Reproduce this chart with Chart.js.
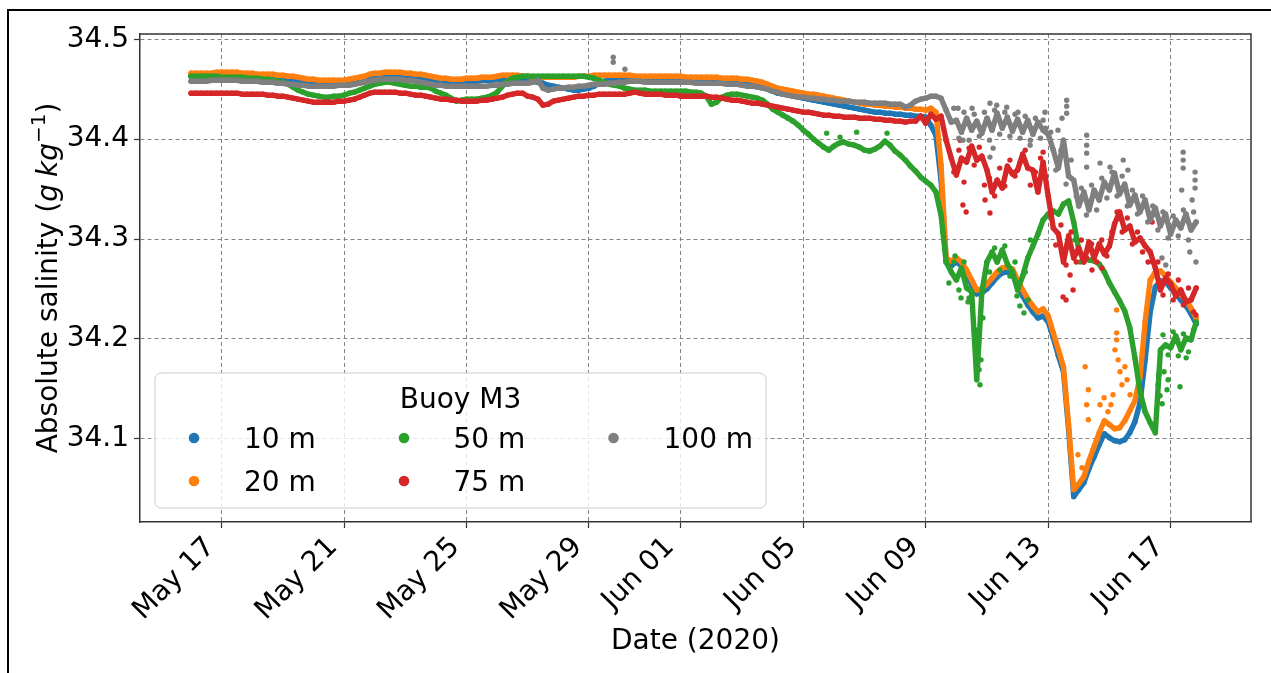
<!DOCTYPE html>
<html>
<head>
<meta charset="utf-8">
<title>Absolute salinity, Buoy M3</title>
<script src="https://cdn.jsdelivr.net/npm/chart.js@4.4.1/dist/chart.umd.min.js"></script>
<style>
  html, body { margin: 0; padding: 0; background: #ffffff; }
  #wrap { position: relative; width: 1271px; height: 673px; }
  canvas { display: block; }
</style>
</head>
<body>
<div id="wrap"><canvas id="chart" width="1271" height="673"></canvas></div>
<script>
// Mooring record sampled every 4 hours, starting 16 May 2020 00:00 UTC
const recordStart = '2020-05-16T00:00:00Z';
const recordStepHours = 4;

const depthLabels = ['10 m', '20 m', '50 m', '75 m', '100 m'];
const depthColors = ['#1f77b4', '#ff7f0e', '#2ca02c', '#d62728', '#7f7f7f'];
const legendTitle = 'Buoy M3';

const dateTicks = ['2020-05-17', '2020-05-21', '2020-05-25', '2020-05-29', '2020-06-01',
                   '2020-06-05', '2020-06-09', '2020-06-13', '2020-06-17'];
const dateTickLabels = ['May 17', 'May 21', 'May 25', 'May 29', 'Jun 01',
                        'Jun 05', 'Jun 09', 'Jun 13', 'Jun 17'];
const salinityTicks = [34.1, 34.2, 34.3, 34.4, 34.5];

const xLimits = ['2020-05-14T08:00:00Z', '2020-06-19T15:00:00Z'];
const yLimits = [34.0166, 34.5053];

// Absolute salinity (g/kg), one row per day (00, 04, 08, 12, 16, 20 h)
const sal10 = [
  34.463,34.463,34.463,34.463,34.463,34.464, // May 16
  34.464,34.464,34.464,34.464,34.463,34.463,
  34.463,34.462,34.462,34.462,34.461,34.461,
  34.461,34.460,34.459,34.458,34.457,34.456,
  34.456,34.456,34.456,34.456,34.456,34.456, // May 20
  34.456,34.457,34.458,34.459,34.460,34.462,
  34.463,34.463,34.463,34.463,34.463,34.463,
  34.463,34.463,34.462,34.462,34.461,34.460,
  34.459,34.458,34.458,34.457,34.457,34.457,
  34.458,34.458,34.458,34.459,34.459,34.459, // May 25
  34.460,34.460,34.460,34.460,34.460,34.459,
  34.459,34.458,34.457,34.456,34.454,34.453,
  34.452,34.451,34.450,34.449,34.449,34.450,
  34.451,34.453,34.456,34.458,34.459,34.460,
  34.461,34.461,34.461,34.460,34.460,34.460, // May 30
  34.460,34.460,34.460,34.460,34.460,34.460,
  34.460,34.459,34.459,34.459,34.459,34.459, // Jun 01
  34.459,34.459,34.458,34.458,34.457,34.457,
  34.456,34.455,34.454,34.453,34.452,34.450,
  34.448,34.446,34.445,34.444,34.443,34.442,
  34.441,34.440,34.439,34.438,34.437,34.436, // Jun 05
  34.435,34.434,34.433,34.432,34.431,34.430,
  34.429,34.428,34.427,34.427,34.426,34.426,
  34.425,34.425,34.424,34.424,34.423,34.423,
  34.422,34.414,34.404,34.359,34.277,34.273, // Jun 09
  34.277,34.273,34.265,34.254,34.245,34.246,
  34.250,34.256,34.262,34.266,34.267,34.265,
  34.253,34.243,34.234,34.227,34.221,34.223,
  34.217,34.201,34.183,34.167,34.109,34.042, // Jun 13
  34.049,34.056,34.070,34.082,34.094,34.105,
  34.101,34.098,34.097,34.099,34.106,34.117,
  34.136,34.179,34.227,34.252,34.258,34.257,
  34.251,34.245,34.239,34.233,34.225,34.215  // Jun 17
];

const sal20 = [
  34.466,34.466,34.466,34.466,34.466,34.467, // May 16
  34.467,34.467,34.467,34.467,34.466,34.466,
  34.466,34.465,34.465,34.465,34.465,34.464,
  34.464,34.463,34.463,34.462,34.461,34.460,
  34.460,34.459,34.459,34.459,34.459,34.459, // May 20
  34.459,34.460,34.461,34.462,34.463,34.465,
  34.466,34.466,34.467,34.467,34.467,34.467,
  34.466,34.466,34.465,34.465,34.464,34.463,
  34.462,34.461,34.461,34.460,34.460,34.460,
  34.461,34.461,34.461,34.462,34.462,34.462, // May 25
  34.463,34.464,34.464,34.464,34.464,34.463,
  34.463,34.462,34.462,34.462,34.462,34.462,
  34.462,34.462,34.462,34.462,34.463,34.463,
  34.463,34.464,34.464,34.464,34.464,34.464,
  34.464,34.464,34.464,34.463,34.463,34.463, // May 30
  34.463,34.463,34.463,34.463,34.463,34.463,
  34.463,34.462,34.462,34.462,34.462,34.462, // Jun 01
  34.462,34.462,34.461,34.461,34.461,34.461,
  34.460,34.460,34.459,34.458,34.457,34.455,
  34.453,34.451,34.450,34.449,34.448,34.447,
  34.446,34.445,34.445,34.444,34.443,34.442, // Jun 05
  34.441,34.440,34.439,34.438,34.437,34.436,
  34.435,34.435,34.434,34.434,34.433,34.433,
  34.432,34.432,34.431,34.431,34.430,34.430,
  34.429,34.431,34.427,34.374,34.281,34.278, // Jun 09
  34.281,34.277,34.269,34.259,34.249,34.250,
  34.255,34.261,34.267,34.271,34.272,34.270,
  34.259,34.249,34.240,34.233,34.227,34.230,
  34.223,34.206,34.189,34.172,34.114,34.049, // Jun 13
  34.055,34.062,34.078,34.092,34.106,34.118,
  34.114,34.110,34.111,34.118,34.128,34.138,
  34.162,34.217,34.259,34.267,34.268,34.263,
  34.257,34.251,34.245,34.239,34.231,34.221  // Jun 17
];

const sal50 = [
  34.463,34.463,34.463,34.463,34.463,34.463, // May 16
  34.462,34.462,34.462,34.462,34.462,34.461,
  34.461,34.461,34.460,34.460,34.459,34.458,
  34.457,34.455,34.452,34.449,34.447,34.445,
  34.444,34.443,34.442,34.442,34.443,34.443, // May 20
  34.444,34.446,34.447,34.449,34.451,34.453,
  34.455,34.456,34.457,34.457,34.456,34.455,
  34.454,34.453,34.453,34.452,34.452,34.451,
  34.448,34.446,34.444,34.441,34.438,34.439,
  34.440,34.440,34.440,34.441,34.442,34.444, // May 25
  34.447,34.453,34.458,34.461,34.462,34.463,
  34.463,34.463,34.463,34.463,34.463,34.463,
  34.463,34.463,34.463,34.463,34.463,34.463,
  34.462,34.461,34.459,34.457,34.455,34.454,
  34.453,34.451,34.450,34.449,34.449,34.449, // May 30
  34.448,34.448,34.448,34.448,34.448,34.448,
  34.448,34.448,34.447,34.447,34.446,34.443, // Jun 01
  34.435,34.437,34.442,34.444,34.445,34.445,
  34.444,34.443,34.442,34.441,34.439,34.435,
  34.430,34.427,34.424,34.421,34.418,34.414,
  34.409,34.405,34.400,34.396,34.392,34.389, // Jun 05
  34.393,34.396,34.397,34.395,34.394,34.392,
  34.389,34.388,34.390,34.393,34.398,34.394,
  34.388,34.384,34.379,34.373,34.368,34.362,
  34.358,34.354,34.347,34.324,34.277,34.267, // Jun 09
  34.259,34.271,34.251,34.247,34.159,34.247,
  34.277,34.287,34.277,34.289,34.275,34.267,
  34.249,34.263,34.281,34.293,34.305,34.319,
  34.325,34.328,34.325,34.335,34.338,34.317, // Jun 13
  34.289,34.281,34.279,34.278,34.275,34.267,
  34.256,34.247,34.238,34.228,34.211,34.181,
  34.147,34.127,34.116,34.106,34.189,34.194,
  34.191,34.203,34.189,34.201,34.199,34.217  // Jun 17
];

const sal75 = [
  34.446,34.446,34.446,34.446,34.446,34.446, // May 16
  34.446,34.446,34.446,34.446,34.445,34.445,
  34.445,34.445,34.445,34.444,34.444,34.443,
  34.443,34.442,34.441,34.440,34.439,34.438,
  34.437,34.437,34.437,34.437,34.437,34.438, // May 20
  34.438,34.439,34.440,34.442,34.444,34.446,
  34.447,34.447,34.447,34.447,34.447,34.446,
  34.446,34.445,34.444,34.444,34.443,34.442,
  34.441,34.440,34.440,34.439,34.439,34.438,
  34.438,34.438,34.438,34.439,34.439,34.440, // May 25
  34.441,34.442,34.444,34.445,34.446,34.446,
  34.443,34.442,34.440,34.434,34.435,34.438,
  34.439,34.440,34.441,34.442,34.443,34.443,
  34.444,34.444,34.445,34.445,34.445,34.445,
  34.445,34.445,34.446,34.447,34.446,34.445, // May 30
  34.445,34.445,34.445,34.444,34.444,34.444,
  34.443,34.443,34.443,34.443,34.443,34.443, // Jun 01
  34.442,34.442,34.441,34.440,34.439,34.439,
  34.438,34.437,34.436,34.436,34.435,34.434,
  34.433,34.432,34.431,34.430,34.429,34.428,
  34.427,34.427,34.426,34.425,34.424,34.424, // Jun 05
  34.423,34.423,34.422,34.422,34.422,34.421,
  34.421,34.421,34.420,34.420,34.419,34.419,
  34.418,34.418,34.417,34.418,34.418,34.423,
  34.416,34.425,34.420,34.423,34.399,34.381, // Jun 09
  34.364,34.381,34.377,34.393,34.379,34.383,
  34.369,34.347,34.359,34.351,34.373,34.365,
  34.369,34.385,34.371,34.369,34.347,34.377,
  34.343,34.311,34.305,34.277,34.303,34.281, // Jun 13
  34.291,34.277,34.297,34.281,34.295,34.285,
  34.293,34.315,34.327,34.309,34.313,34.297,
  34.301,34.293,34.287,34.271,34.249,34.261,
  34.255,34.243,34.249,34.237,34.239,34.251  // Jun 17
];

const sal100 = [
  34.458,34.458,34.458,34.458,34.459,34.459, // May 16
  34.459,34.459,34.459,34.459,34.458,34.458,
  34.458,34.458,34.457,34.457,34.457,34.456,
  34.456,34.455,34.455,34.454,34.454,34.453,
  34.453,34.453,34.453,34.453,34.453,34.454, // May 20
  34.454,34.454,34.455,34.456,34.457,34.458,
  34.459,34.460,34.460,34.460,34.460,34.460,
  34.459,34.459,34.458,34.457,34.456,34.455,
  34.454,34.454,34.453,34.453,34.453,34.453,
  34.453,34.453,34.453,34.453,34.453,34.454, // May 25
  34.454,34.455,34.455,34.456,34.456,34.456,
  34.456,34.457,34.459,34.451,34.449,34.450,
  34.451,34.451,34.452,34.452,34.453,34.453,
  34.454,34.455,34.455,34.455,34.456,34.456,
  34.457,34.457,34.458,34.458,34.458,34.457, // May 30
  34.457,34.457,34.457,34.457,34.457,34.457,
  34.457,34.457,34.457,34.456,34.456,34.456, // Jun 01
  34.456,34.456,34.456,34.455,34.455,34.455,
  34.454,34.453,34.453,34.452,34.451,34.450,
  34.448,34.447,34.445,34.444,34.443,34.442,
  34.442,34.441,34.441,34.440,34.440,34.439, // Jun 05
  34.439,34.438,34.438,34.438,34.437,34.437,
  34.437,34.436,34.436,34.436,34.436,34.435,
  34.435,34.435,34.432,34.434,34.438,34.440,
  34.441,34.443,34.443,34.441,34.429,34.417, // Jun 09
  34.419,34.407,34.421,34.409,34.418,34.406,
  34.421,34.409,34.426,34.411,34.422,34.408,
  34.420,34.407,34.419,34.405,34.417,34.409,
  34.405,34.389,34.371,34.399,34.363,34.359, // Jun 13
  34.333,34.347,34.329,34.349,34.339,34.357,
  34.349,34.366,34.345,34.355,34.334,34.344,
  34.327,34.339,34.319,34.331,34.313,34.325,
  34.305,34.319,34.311,34.325,34.309,34.317  // Jun 17
];

// Scattered readings around each depth's main trace (time UTC, g/kg)
const spots10 = [['2020-06-13T15:20', 34.119]];

const spots20 = [
  ['2020-06-13T23:20', 34.084], ['2020-06-14T02:30', 34.071], ['2020-06-14T05:00', 34.172],
  ['2020-06-14T06:10', 34.134], ['2020-06-14T07:30', 34.149], ['2020-06-14T07:30', 34.119],
  ['2020-06-14T11:10', 34.089], ['2020-06-14T14:20', 34.099], ['2020-06-14T16:40', 34.134],
  ['2020-06-14T19:50', 34.141], ['2020-06-14T22:50', 34.127], ['2020-06-15T01:10', 34.134],
  ['2020-06-15T02:50', 34.144], ['2020-06-15T04:20', 34.189], ['2020-06-15T05:40', 34.229],
  ['2020-06-15T05:40', 34.206], ['2020-06-15T05:40', 34.199], ['2020-06-15T06:50', 34.179],
  ['2020-06-15T08:20', 34.167], ['2020-06-15T09:50', 34.154], ['2020-06-15T12:10', 34.172],
  ['2020-06-15T13:50', 34.159], ['2020-06-15T16:10', 34.144]
];

const spots50 = [
  ['2020-06-05T18:20', 34.406], ['2020-06-06T04:50', 34.402], ['2020-06-06T17:50', 34.407],
  ['2020-06-07T17:40', 34.406], ['2020-06-09T13:30', 34.307], ['2020-06-09T15:10', 34.291],
  ['2020-06-09T18:10', 34.256], ['2020-06-09T22:00', 34.277], ['2020-06-09T23:00', 34.283],
  ['2020-06-10T02:00', 34.249], ['2020-06-10T03:40', 34.241], ['2020-06-10T06:00', 34.277],
  ['2020-06-10T09:10', 34.237], ['2020-06-10T10:00', 34.241], ['2020-06-10T14:40', 34.209],
  ['2020-06-10T16:10', 34.187], ['2020-06-10T17:50', 34.169], ['2020-06-10T18:30', 34.154],
  ['2020-06-10T19:20', 34.179], ['2020-06-10T20:50', 34.221], ['2020-06-11T02:00', 34.267],
  ['2020-06-11T06:00', 34.291], ['2020-06-11T10:00', 34.269], ['2020-06-11T14:00', 34.293],
  ['2020-06-11T18:00', 34.263], ['2020-06-11T22:00', 34.277], ['2020-06-11T23:30', 34.243],
  ['2020-06-12T01:50', 34.233], ['2020-06-12T05:00', 34.226], ['2020-06-12T06:00', 34.267],
  ['2020-06-12T08:10', 34.239], ['2020-06-12T10:00', 34.299], ['2020-06-13T21:00', 34.299],
  ['2020-06-14T01:00', 34.277], ['2020-06-16T14:10', 34.154], ['2020-06-16T14:50', 34.164],
  ['2020-06-16T15:40', 34.143], ['2020-06-16T17:20', 34.135], ['2020-06-16T18:00', 34.204],
  ['2020-06-16T18:50', 34.167], ['2020-06-16T21:10', 34.149], ['2020-06-16T22:00', 34.159],
  ['2020-06-16T22:00', 34.184], ['2020-06-17T02:00', 34.207], ['2020-06-17T06:00', 34.183],
  ['2020-06-17T07:20', 34.152], ['2020-06-17T10:00', 34.205], ['2020-06-17T12:10', 34.181],
  ['2020-06-17T14:00', 34.187], ['2020-06-17T18:00', 34.209]
];

const spots75 = [
  ['2020-06-09T22:00', 34.367], ['2020-06-10T02:00', 34.389], ['2020-06-10T03:00', 34.399],
  ['2020-06-10T05:10', 34.334], ['2020-06-10T06:00', 34.357], ['2020-06-10T07:40', 34.327],
  ['2020-06-10T10:00', 34.391], ['2020-06-10T14:00', 34.374], ['2020-06-10T18:00', 34.392],
  ['2020-06-10T22:00', 34.354], ['2020-06-10T22:30', 34.339], ['2020-06-11T02:00', 34.361],
  ['2020-06-11T02:20', 34.326], ['2020-06-11T06:00', 34.343], ['2020-06-11T10:00', 34.371],
  ['2020-06-11T14:00', 34.353], ['2020-06-11T18:00', 34.379], ['2020-06-11T22:00', 34.363],
  ['2020-06-12T02:00', 34.377], ['2020-06-12T06:00', 34.389], ['2020-06-12T10:00', 34.354],
  ['2020-06-12T14:00', 34.367], ['2020-06-12T18:00', 34.381], ['2020-06-12T20:00', 34.387],
  ['2020-06-12T22:00', 34.363], ['2020-06-13T02:00', 34.324], ['2020-06-13T06:00', 34.294],
  ['2020-06-13T10:00', 34.314], ['2020-06-13T11:40', 34.242], ['2020-06-13T14:00', 34.274],
  ['2020-06-13T14:00', 34.239], ['2020-06-13T17:10', 34.264], ['2020-06-13T18:00', 34.307],
  ['2020-06-13T19:30', 34.249], ['2020-06-13T22:00', 34.277], ['2020-06-14T02:00', 34.299],
  ['2020-06-14T06:00', 34.281], ['2020-06-14T10:00', 34.295], ['2020-06-14T10:20', 34.269],
  ['2020-06-14T14:00', 34.277], ['2020-06-14T18:00', 34.299], ['2020-06-14T18:10', 34.271],
  ['2020-06-14T22:00', 34.283], ['2020-06-15T02:00', 34.307], ['2020-06-15T06:00', 34.327],
  ['2020-06-15T10:00', 34.307], ['2020-06-15T14:00', 34.321], ['2020-06-15T18:00', 34.295],
  ['2020-06-15T22:00', 34.307], ['2020-06-16T02:00', 34.287], ['2020-06-16T06:20', 34.277],
  ['2020-06-16T09:30', 34.317], ['2020-06-16T10:00', 34.277], ['2020-06-16T14:00', 34.277],
  ['2020-06-16T18:00', 34.244], ['2020-06-16T22:00', 34.265], ['2020-06-17T02:00', 34.239],
  ['2020-06-17T06:00', 34.259], ['2020-06-17T10:00', 34.234], ['2020-06-17T14:00', 34.251],
  ['2020-06-17T18:00', 34.227], ['2020-06-17T19:50', 34.224]
];

const spots100 = [
  ['2020-05-29T19:00', 34.482], ['2020-05-29T19:00', 34.477], ['2020-05-30T04:10', 34.470],
  ['2020-06-09T22:00', 34.431], ['2020-06-10T01:20', 34.431], ['2020-06-10T02:00', 34.401],
  ['2020-06-10T05:10', 34.399], ['2020-06-10T06:00', 34.427], ['2020-06-10T10:00', 34.399],
  ['2020-06-10T12:20', 34.431], ['2020-06-10T14:00', 34.425], ['2020-06-10T18:00', 34.403],
  ['2020-06-10T22:00', 34.427], ['2020-06-11T02:00', 34.399], ['2020-06-11T02:20', 34.436],
  ['2020-06-11T02:20', 34.382], ['2020-06-11T04:50', 34.391], ['2020-06-11T06:00', 34.429],
  ['2020-06-11T07:40', 34.434], ['2020-06-11T10:00', 34.405], ['2020-06-11T14:00', 34.427],
  ['2020-06-11T15:30', 34.432], ['2020-06-11T18:00', 34.403], ['2020-06-11T22:00', 34.425],
  ['2020-06-12T00:20', 34.427], ['2020-06-12T02:00', 34.401], ['2020-06-12T06:00', 34.423],
  ['2020-06-12T09:50', 34.394], ['2020-06-12T10:00', 34.399], ['2020-06-12T14:00', 34.421],
  ['2020-06-12T18:00', 34.401], ['2020-06-12T20:00', 34.419], ['2020-06-12T21:30', 34.427],
  ['2020-06-12T22:00', 34.411], ['2020-06-13T02:00', 34.407], ['2020-06-13T06:00', 34.369],
  ['2020-06-13T07:40', 34.409], ['2020-06-13T10:00', 34.389], ['2020-06-13T10:50', 34.421],
  ['2020-06-13T14:00', 34.355], ['2020-06-13T14:30', 34.439], ['2020-06-13T14:30', 34.433],
  ['2020-06-13T14:30', 34.426], ['2020-06-13T18:00', 34.379], ['2020-06-13T22:00', 34.343],
  ['2020-06-14T02:00', 34.351], ['2020-06-14T06:00', 34.324], ['2020-06-14T06:10', 34.404],
  ['2020-06-14T06:10', 34.394], ['2020-06-14T06:10', 34.386], ['2020-06-14T06:10', 34.372],
  ['2020-06-14T10:00', 34.354], ['2020-06-14T14:00', 34.329], ['2020-06-14T16:40', 34.376],
  ['2020-06-14T18:00', 34.361], ['2020-06-14T22:00', 34.341], ['2020-06-15T00:30', 34.372],
  ['2020-06-15T02:00', 34.367], ['2020-06-15T06:00', 34.343], ['2020-06-15T10:00', 34.363],
  ['2020-06-15T10:50', 34.379], ['2020-06-15T14:00', 34.333], ['2020-06-15T14:30', 34.369],
  ['2020-06-15T18:00', 34.349], ['2020-06-15T22:00', 34.325], ['2020-06-16T02:00', 34.343],
  ['2020-06-16T06:00', 34.317], ['2020-06-16T10:00', 34.333], ['2020-06-16T14:00', 34.309],
  ['2020-06-16T17:10', 34.281], ['2020-06-16T18:00', 34.327], ['2020-06-16T20:10', 34.274],
  ['2020-06-16T22:00', 34.301], ['2020-06-17T02:00', 34.323], ['2020-06-17T06:00', 34.303],
  ['2020-06-17T08:40', 34.349], ['2020-06-17T09:50', 34.387], ['2020-06-17T09:50', 34.379],
  ['2020-06-17T09:50', 34.371], ['2020-06-17T10:00', 34.329], ['2020-06-17T14:00', 34.299],
  ['2020-06-17T15:00', 34.287], ['2020-06-17T16:50', 34.339], ['2020-06-17T18:00', 34.327],
  ['2020-06-17T19:10', 34.367], ['2020-06-17T19:10', 34.359], ['2020-06-17T19:10', 34.351],
  ['2020-06-17T19:50', 34.277]
];

// ---------------------------------------------------------------------------
const FONT = '"DejaVu Sans", "Liberation Sans", sans-serif';
Chart.defaults.font.family = FONT;
Chart.defaults.color = '#000';

const t0 = Date.parse(recordStart);
const stepMs = recordStepHours * 3600 * 1000;
const trackPoints = arr => arr.map((v, i) => ({ x: t0 + i * stepMs, y: v }));
const spotPoints = arr => arr.map(([t, v]) => ({ x: Date.parse(t + ':00Z'), y: v }));
const dayMs = d => Date.parse(d + 'T00:00:00Z');

const tracks = [sal10, sal20, sal50, sal75, sal100];
const spots = [spots10, spots20, spots50, spots75, spots100];

const MARK_R = 2.7;
const datasets = [];
tracks.forEach((arr, k) => {
  datasets.push({
    label: depthLabels[k],
    data: trackPoints(arr),
    showLine: true,
    borderColor: depthColors[k],
    backgroundColor: depthColors[k],
    borderWidth: MARK_R * 2,
    borderJoinStyle: 'round',
    borderCapStyle: 'round',
    pointRadius: MARK_R,
    pointBorderWidth: 0,
    pointHoverRadius: MARK_R,
    order: 5 - k
  });
  datasets.push({
    label: depthLabels[k],
    data: spotPoints(spots[k]),
    showLine: false,
    backgroundColor: depthColors[k],
    borderColor: depthColors[k],
    pointRadius: MARK_R,
    pointBorderWidth: 0,
    pointHoverRadius: MARK_R,
    order: 5 - k
  });
});

// Axes frame (top/right spines), outer figure frame, y-axis title and legend
const decorations = {
  id: 'decorations',
  afterDraw(chart) {
    const ctx = chart.ctx;
    const a = chart.chartArea;
    ctx.save();

    // remaining spines of the axes box
    ctx.strokeStyle = '#333';
    ctx.lineWidth = 1.5;
    ctx.beginPath();
    ctx.moveTo(a.left, a.top);
    ctx.lineTo(a.right, a.top);
    ctx.lineTo(a.right, a.bottom);
    ctx.stroke();

    // figure frame
    ctx.strokeStyle = '#000';
    ctx.lineWidth = 2;
    ctx.beginPath();
    ctx.moveTo(8, 673);
    ctx.lineTo(8, 10);
    ctx.lineTo(1271, 10);
    ctx.stroke();

    // y-axis title: Absolute salinity (g kg^-1)
    const fs = 28;
    const parts = [
      { text: 'Absolute salinity (', font: `${fs}px ${FONT}`, rise: 0 },
      { text: 'g', font: `italic ${fs}px ${FONT}`, rise: 0 },
      { text: ' ', font: `${Math.round(fs * 0.8)}px ${FONT}`, rise: 0 },
      { text: 'kg', font: `italic ${fs}px ${FONT}`, rise: 0 },
      { text: '\u22121', font: `${Math.round(fs * 0.7)}px ${FONT}`, rise: fs * 0.42 },
      { text: ')', font: `${fs}px ${FONT}`, rise: 0 }
    ];
    let total = 0;
    parts.forEach(p => { ctx.font = p.font; p.w = ctx.measureText(p.text).width; total += p.w; });
    ctx.translate(56.5, (a.top + a.bottom) / 2);
    ctx.rotate(-Math.PI / 2);
    ctx.fillStyle = '#000';
    ctx.textBaseline = 'alphabetic';
    ctx.textAlign = 'left';
    let cx = -total / 2;
    parts.forEach(p => { ctx.font = p.font; ctx.fillText(p.text, cx, -p.rise); cx += p.w; });
    ctx.setTransform(1, 0, 0, 1, 0, 0);

    // legend
    const box = { x: 155, y: 373, w: 611, h: 135, r: 6 };
    ctx.beginPath();
    ctx.roundRect(box.x, box.y, box.w, box.h, box.r);
    ctx.fillStyle = 'rgba(255,255,255,0.8)';
    ctx.fill();
    ctx.strokeStyle = '#cccccc';
    ctx.lineWidth = 1;
    ctx.stroke();

    ctx.fillStyle = '#000';
    ctx.font = `${fs}px ${FONT}`;
    ctx.textAlign = 'center';
    ctx.fillText(legendTitle, box.x + box.w / 2, 407.5);

    const colMarkX = [194, 404, 613.5];
    const colTextX = [244, 453.5, 663.5];
    const rowY = [438, 481];
    ctx.textAlign = 'left';
    depthLabels.forEach((lab, k) => {
      const col = Math.floor(k / 2), row = k % 2;
      ctx.beginPath();
      ctx.arc(colMarkX[col], rowY[row], 5.3, 0, Math.PI * 2);
      ctx.fillStyle = depthColors[k];
      ctx.fill();
      ctx.fillStyle = '#000';
      ctx.fillText(lab, colTextX[col], rowY[row] + 10.2);
    });
    ctx.restore();
  }
};

const gridColor = 'rgba(110,110,110,0.85)';

new Chart(document.getElementById('chart'), {
  type: 'scatter',
  data: { datasets },
  plugins: [decorations],
  options: {
    responsive: false,
    animation: false,
    devicePixelRatio: 1,
    events: [],
    layout: { padding: { left: 0, top: 34, right: 20, bottom: 0 } },
    plugins: { legend: { display: false }, tooltip: { enabled: false } },
    scales: {
      x: {
        type: 'linear',
        min: Date.parse(xLimits[0]),
        max: Date.parse(xLimits[1]),
        afterBuildTicks: s => { s.ticks = dateTicks.map(d => ({ value: dayMs(d) })); },
        afterFit: s => { s.height = 151; },
        ticks: {
          autoSkip: false,
          minRotation: 45,
          maxRotation: 45,
          padding: 3,
          labelOffset: -11,
          color: '#000',
          font: { size: 28 },
          callback: (v, i) => dateTickLabels[i]
        },
        grid: { color: gridColor, lineWidth: 1, tickLength: 6, tickColor: '#333', tickWidth: 1.2 },
        border: { color: '#333', width: 1.5, dash: [4, 3] },
        title: {
          display: true,
          text: 'Date (2020)',
          color: '#000',
          font: { size: 28 },
          padding: { top: 0, bottom: 14 }
        }
      },
      y: {
        min: yLimits[0],
        max: yLimits[1],
        afterBuildTicks: s => { s.ticks = salinityTicks.map(v => ({ value: v })); },
        afterFit: s => { s.width = 140; },
        ticks: {
          padding: 5,
          color: '#000',
          font: { size: 28 },
          callback: v => Number(v).toFixed(1)
        },
        grid: { color: gridColor, lineWidth: 1, tickLength: 6, tickColor: '#333', tickWidth: 1.2 },
        border: { color: '#333', width: 1.5, dash: [4, 3] }
      }
    }
  }
});
</script>
</body>
</html>
